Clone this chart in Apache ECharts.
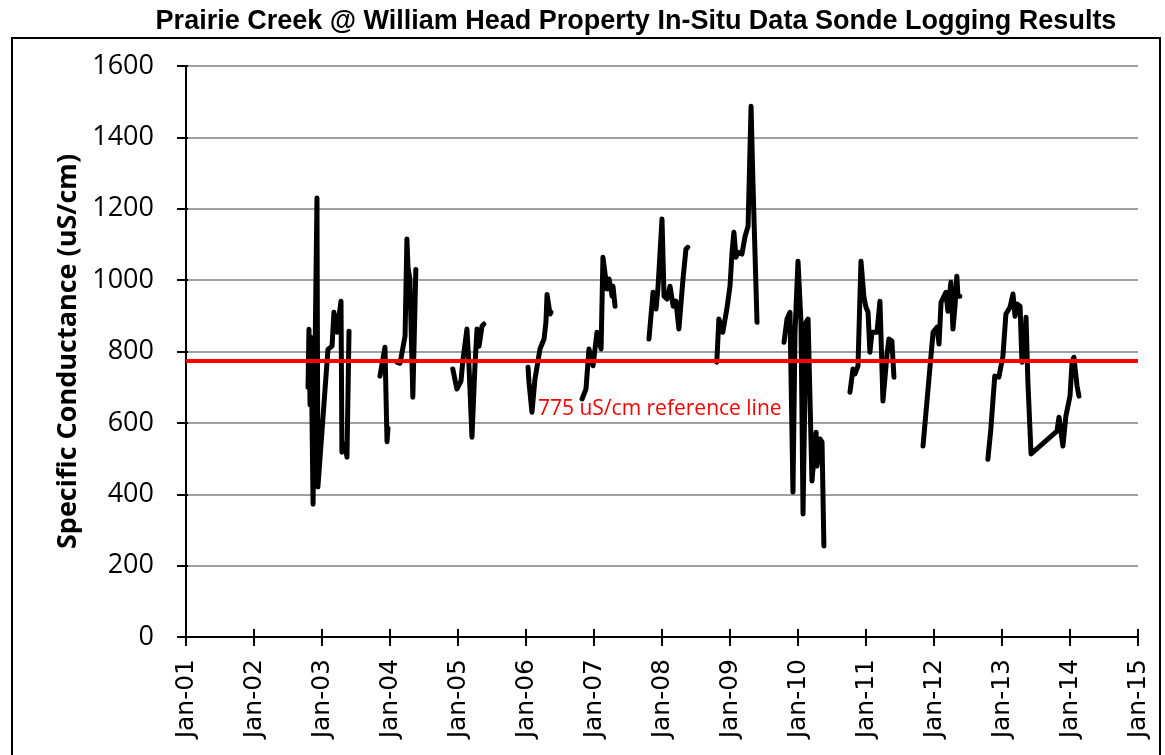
<!DOCTYPE html>
<html>
<head>
<meta charset="utf-8">
<script src="https://cdn.jsdelivr.net/npm/echarts@6/dist/echarts.min.js"></script>
<style>
  html, body { margin: 0; padding: 0; background: #ffffff; }
  #chart { width: 1165px; height: 755px; }
</style>
</head>
<body>
<div id="chart"></div>
<script>
// ---- DATA ----
const chartTitle = 'Prairie Creek @ William Head Property In-Situ Data Sonde Logging Results';
const yAxisTitle = 'Specific Conductance (uS/cm)';
const xTickLabels = ['Jan-01','Jan-02','Jan-03','Jan-04','Jan-05','Jan-06','Jan-07','Jan-08',
                     'Jan-09','Jan-10','Jan-11','Jan-12','Jan-13','Jan-14','Jan-15'];
const yTickValues = [0, 200, 400, 600, 800, 1000, 1200, 1400, 1600];
const referenceValue = 775;
const referenceLabel = '775 uS/cm reference line';

// Sonde readings; null marks a gap between deployments
const sondeDates = [
  '2002-10-18','2002-10-23','2002-10-29','2002-11-03','2002-11-14','2002-11-24','2002-12-05','2002-12-10',
  '2003-02-02','2003-02-24','2003-03-06','2003-03-23','2003-04-13','2003-04-18','2003-05-04','2003-05-15','2003-05-26',
  null,
  '2003-11-08','2003-12-05','2003-12-16','2003-12-21',
  null,
  '2004-02-08','2004-02-24','2004-03-22','2004-04-01','2004-04-07','2004-04-17','2004-05-03','2004-05-19',
  null,
  '2004-12-04','2004-12-26','2005-01-17','2005-01-28','2005-02-18','2005-03-01','2005-03-17','2005-04-02',
  '2005-04-13','2005-04-24','2005-05-10','2005-05-20',
  null,
  '2006-01-12','2006-01-17','2006-02-02','2006-02-18','2006-03-17','2006-04-08','2006-04-18','2006-04-24',
  '2006-05-10','2006-05-15',
  null,
  '2006-10-29','2006-11-19','2006-12-05','2006-12-27','2007-01-17','2007-02-08','2007-02-18','2007-03-12',
  '2007-03-23','2007-04-08','2007-04-13','2007-04-24',
  null,
  '2007-10-23','2007-11-14','2007-11-30','2007-12-10','2008-01-01','2008-01-12','2008-01-28','2008-02-13',
  '2008-03-01','2008-03-16','2008-04-01','2008-04-23','2008-05-09','2008-05-19',
  null,
  '2008-10-22','2008-11-02','2008-11-23','2008-12-15','2009-01-01','2009-01-12','2009-01-22','2009-02-02',
  '2009-02-13','2009-03-06','2009-03-23','2009-04-08','2009-04-24','2009-05-04','2009-05-26',
  null,
  '2009-10-18','2009-11-03','2009-11-19','2009-12-05','2009-12-16','2010-01-01','2010-01-17','2010-01-28',
  '2010-02-13','2010-02-24','2010-03-17','2010-04-08','2010-04-13','2010-04-29','2010-05-10','2010-05-20',
  null,
  '2010-10-07','2010-10-23','2010-11-03','2010-11-19','2010-12-05','2010-12-21','2011-01-01','2011-01-12',
  '2011-01-22','2011-02-02','2011-03-01','2011-03-17','2011-04-02','2011-04-24','2011-05-04','2011-05-20','2011-05-31',
  null,
  '2011-11-03','2011-12-27','2012-01-17','2012-01-28','2012-02-08','2012-02-18','2012-03-05','2012-03-16',
  '2012-04-01','2012-04-12','2012-04-23','2012-05-03','2012-05-09','2012-05-19',
  null,
  '2012-10-17','2012-11-02','2012-11-23','2012-12-15','2013-01-06','2013-01-22','2013-02-13','2013-03-01',
  '2013-03-12','2013-03-23','2013-04-08','2013-04-18','2013-04-29','2013-05-10','2013-05-20','2013-06-06',
  '2013-10-23','2013-11-03','2013-11-24','2013-12-10','2014-01-01','2014-01-12','2014-01-22','2014-02-08','2014-02-18'
];
const sondeValues = [
  700, 862, 650, 840, 372, 760, 1230, 420,
  806, 815, 910, 854, 941, 518, 540, 504, 857,
  null,
  731, 812, 547, 585,
  null,
  770, 767, 843, 1115, 1036, 1003, 672, 1030,
  null,
  751, 695, 717, 779, 863, 760, 560, 760,
  863, 815, 871, 877,
  null,
  756, 714, 630, 722, 807, 835, 882, 960,
  905, 910,
  null,
  667, 695, 807, 760, 854, 807, 1064, 975,
  1003, 955, 983, 927,
  null,
  835, 966, 919, 975, 1171, 955, 947, 983,
  927, 941, 863, 1003, 1087, 1092,
  null,
  770, 891, 854, 919, 983, 1078, 1134, 1064,
  1078, 1073, 1123, 1151, 1487, 1277, 882,
  null,
  826, 891, 910, 406, 854, 1053, 882, 345,
  882, 891, 437, 574, 479, 555, 546, 255,
  null,
  686, 751, 737, 760, 1053, 952, 924, 910,
  798, 854, 854, 941, 661, 793, 835, 829, 728,
  null,
  535, 854, 868, 821, 938, 941, 966, 913,
  994, 863, 927, 1011, 955, 955,
  null,
  498, 583, 731, 728, 787, 905, 924, 961,
  899, 933, 927, 770, 784, 896, 714, 513,
  577, 616, 535, 619, 675, 770, 784, 703, 675
];

// ---- helpers ----
function toYear(s) {
  const [y, m, d] = s.split('-').map(Number);
  const start = Date.UTC(y, 0, 1);
  const end = Date.UTC(y + 1, 0, 1);
  return y + (Date.UTC(y, m - 1, d) - start) / (end - start);
}
const firstYear = 2001;
const lastYear = firstYear + xTickLabels.length - 1;

const lineData = sondeDates.map((d, i) =>
  d === null ? ['-', '-'] : [toYear(d), sondeValues[i]]
);

const chart = echarts.init(document.getElementById('chart'), null, { renderer: 'canvas' });

const gridLeft = 186, gridRight = 27, gridTop = 66, gridBottom = 118;

chart.setOption({
  backgroundColor: '#ffffff',
  animation: false,
  title: {
    text: chartTitle,
    left: 631,
    top: 3,
    textAlign: 'center',
    textStyle: { fontFamily: 'Liberation Sans', fontWeight: 'bold', fontSize: 27, color: '#000' }
  },
  grid: { left: gridLeft, right: gridRight, top: gridTop, bottom: gridBottom, containLabel: false },
  xAxis: [
    {
      type: 'value', min: firstYear, max: lastYear, interval: 1, position: 'bottom',
      axisLine: { show: true, onZero: false, lineStyle: { color: '#000', width: 2 } },
      axisTick: { show: true, inside: false, length: 9, lineStyle: { color: '#000', width: 2 } },
      axisLabel: {
        rotate: 90, margin: 22, color: '#000', fontFamily: 'DejaVu Sans', fontSize: 25,
        formatter: v => xTickLabels[Math.round(v - firstYear)] || ''
      },
      splitLine: { show: false }
    },
    {
      type: 'value', min: firstYear, max: lastYear, interval: 1, position: 'bottom', offset: 0,
      axisLine: { show: false },
      axisTick: { show: true, inside: true, length: 8, lineStyle: { color: '#000', width: 2 } },
      axisLabel: { show: false },
      splitLine: { show: false }
    }
  ],
  yAxis: [
    {
      type: 'value', min: yTickValues[0], max: yTickValues[yTickValues.length - 1],
      interval: yTickValues[1] - yTickValues[0], position: 'left',
      name: yAxisTitle, nameLocation: 'middle', nameGap: 104, nameRotate: 90,
      nameTextStyle: { fontFamily: 'Open Sans', fontWeight: 'bold', fontSize: 27, color: '#000' },
      axisLine: { show: true, onZero: false, lineStyle: { color: '#000', width: 2 } },
      axisTick: { show: true, inside: false, length: 9, lineStyle: { color: '#000', width: 2 } },
      axisLabel: { margin: 32, color: '#000', fontFamily: 'Open Sans', fontSize: 27,
                   formatter: v => String(v) },
      splitLine: { show: true, lineStyle: { color: '#808080', width: 1.5 } }
    },
    {
      type: 'value', min: yTickValues[0], max: yTickValues[yTickValues.length - 1],
      interval: yTickValues[1] - yTickValues[0], position: 'left', offset: 0,
      axisLine: { show: false },
      axisTick: { show: true, inside: true, length: 2, lineStyle: { color: '#000', width: 2 } },
      axisLabel: { show: false },
      splitLine: { show: false }
    }
  ],
  series: [
    {
      type: 'line',
      data: lineData,
      showSymbol: false,
      symbol: 'none',
      connectNulls: false,
      lineStyle: { color: '#000', width: 5, cap: 'round', join: 'round' },
      z: 3,
      markLine: {
        silent: true,
        symbol: ['none', 'none'],
        label: { show: false },
        lineStyle: { color: '#ff0000', width: 4, type: 'solid' },
        data: [{ yAxis: referenceValue }],
        z: 5
      }
    }
  ],
  graphic: [
    {
      type: 'rect', silent: true, z: 0,
      shape: { x: 12, y: 38, width: 1148, height: 740 },
      style: { fill: 'none', stroke: '#000', lineWidth: 2 }
    },
    {
      type: 'text', silent: true, z: 10,
      left: 538, top: 399,
      style: { text: referenceLabel, fill: '#ff0000', font: '21px "Open Sans"' }
    }
  ]
});
</script>
</body>
</html>
